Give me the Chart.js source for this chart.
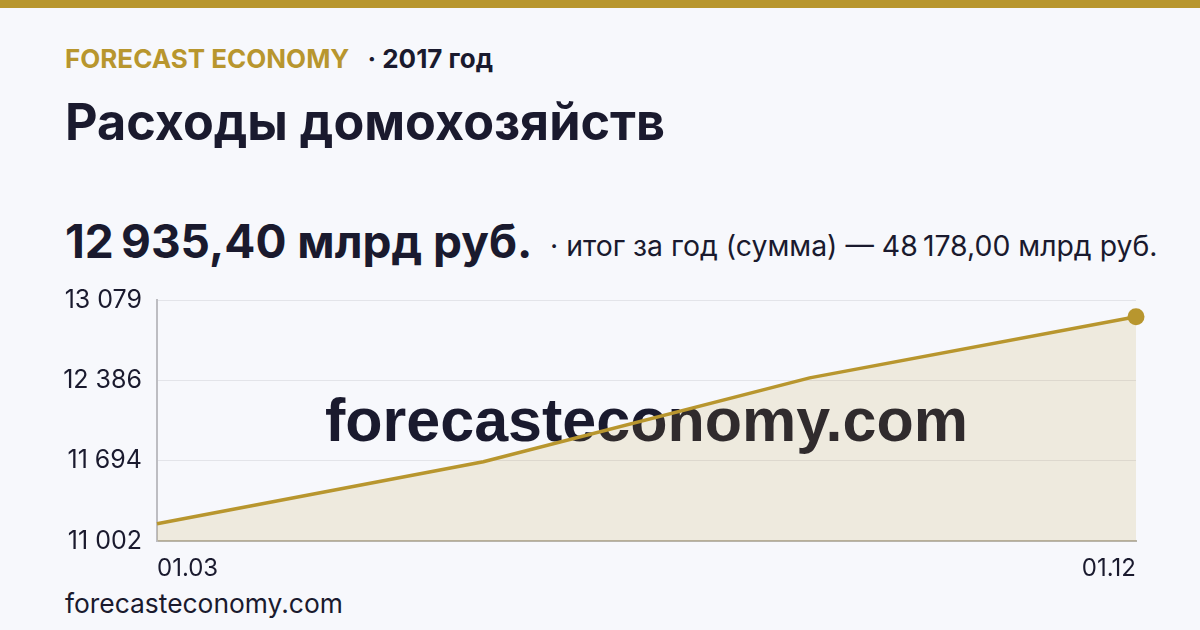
<!DOCTYPE html>
<html lang="ru">
<head>
<meta charset="utf-8">
<script src="https://cdn.jsdelivr.net/npm/chart.js@4/dist/chart.umd.min.js"></script>
<style>
  html, body { margin: 0; padding: 0; }
  body {
    width: 1200px; height: 630px; overflow: hidden; position: relative;
    background: #f7f8fc; font-family: Inter, "Noto Sans", sans-serif; color: #1a1a2e;
  }
  .topbar { position: absolute; left: 0; top: 0; width: 1200px; height: 8px; background: #b8962e; }
  .brand { position: absolute; left: 65px; top: 43px; font-size: 26px; font-weight: 700; white-space: nowrap; }
  .brand .name { color: #b8962e; }
  .brand .year { color: #1a1a2e; margin-left: 18px; font-size: 26px; }
  h1 { position: absolute; left: 65px; top: 91px; margin: 0; font-size: 50.3px; font-weight: 700; white-space: nowrap; }
  .value { position: absolute; left: 65px; top: 213px; font-size: 46px; font-weight: 700; white-space: nowrap; }
  .total { position: absolute; left: 550px; top: 228px; font-size: 28.4px; white-space: nowrap; }
  .footer { position: absolute; left: 65px; top: 587px; font-size: 26.4px; white-space: nowrap; }
  #wrap { position: absolute; left: 0; top: 280px; width: 1200px; height: 310px; }
</style>
</head>
<body>
<div class="topbar"></div>
<div class="brand"><span class="name">FORECAST ECONOMY</span><span class="year">· 2017 год</span></div>
<h1>Расходы домохозяйств</h1>
<div class="value" id="value"></div>
<div class="total" id="total"></div>
<div class="footer">forecasteconomy.com</div>
<div id="wrap"><canvas id="chart"></canvas></div>
<script>
const dates = ["01.03", "01.06", "01.09", "01.12"];
const values = [11150.0, 11685.0, 12407.6, 12935.4];
const yMin = 11002;
const yMax = 13079;
const yTickLabels = ["11 002", "11 694", "12 386", "13 079"];

const gold = "#b8962e";

function fmt(v) {
  const [i, d] = v.toFixed(2).split(".");
  return i.replace(/\B(?=(\d{3})+(?!\d))/g, "\u202f") + "," + d;
}

document.getElementById("value").textContent = fmt(values[values.length - 1]) + " млрд руб.";
document.getElementById("total").textContent =
  "· итог за год (сумма) — " + fmt(values.reduce((a, b) => a + b, 0)) + " млрд руб.";

// watermark goes under the line and the fill
const watermark = {
  id: "watermark",
  beforeDatasetsDraw(chart) {
    const { ctx, chartArea } = chart;
    ctx.save();
    ctx.font = "bold 61px 'Liberation Sans', Arial, sans-serif";
    ctx.fillStyle = "#1a1a2e";
    ctx.textAlign = "center";
    ctx.textBaseline = "middle";
    ctx.fillText("forecasteconomy.com", (chartArea.left + chartArea.right) / 2, 424 - 280);
    ctx.restore();
  },
};

new Chart(document.getElementById("chart"), {
  type: "line",
  data: {
    labels: dates,
    datasets: [{
      data: values,
      borderColor: gold,
      borderWidth: 3.5,
      backgroundColor: "rgba(184, 150, 46, 0.14)",
      fill: "origin",
      tension: 0,
      clip: false,
      pointRadius: values.map((_, i) => (i === values.length - 1 ? 8.5 : 0)),
      pointBackgroundColor: gold,
      pointBorderWidth: 0,
    }],
  },
  options: {
    responsive: true,
    maintainAspectRatio: false,
    animation: false,
    layout: { padding: { top: 20, right: 64, bottom: 0, left: 0 } },
    plugins: { legend: { display: false }, tooltip: { enabled: false } },
    scales: {
      x: {
        offset: false,
        grid: { display: false },
        border: { color: "#b8b4aa", width: 2 },
        afterFit(scale) { scale.height = 49; scale.paddingLeft = 0; scale.paddingRight = 0; },
        ticks: {
          autoSkip: false,
          maxRotation: 0,
          align: "inner",
          padding: 5,
          color: "#1a1a2e",
          font: { family: "Inter", size: 24 },
          callback(v, i) { return i === 0 || i === dates.length - 1 ? dates[i] : ""; },
        },
      },
      y: {
        min: yMin,
        max: yMax,
        afterFit(scale) { scale.width = 157; scale.paddingTop = 0; scale.paddingBottom = 0; },
        afterBuildTicks(scale) {
          scale.ticks = yTickLabels.map((_, i) => ({ value: yMin + (i * (yMax - yMin)) / 3 }));
        },
        grid: { color: "#e3e4e9", drawTicks: false },
        border: { color: "#bdbdc2", width: 2 },
        ticks: {
          padding: 15,
          color: "#1a1a2e",
          font: { family: "Inter", size: 25 },
          callback(v, i) { return yTickLabels[i]; },
        },
      },
    },
  },
  plugins: [watermark],
});
</script>
</body>
</html>
